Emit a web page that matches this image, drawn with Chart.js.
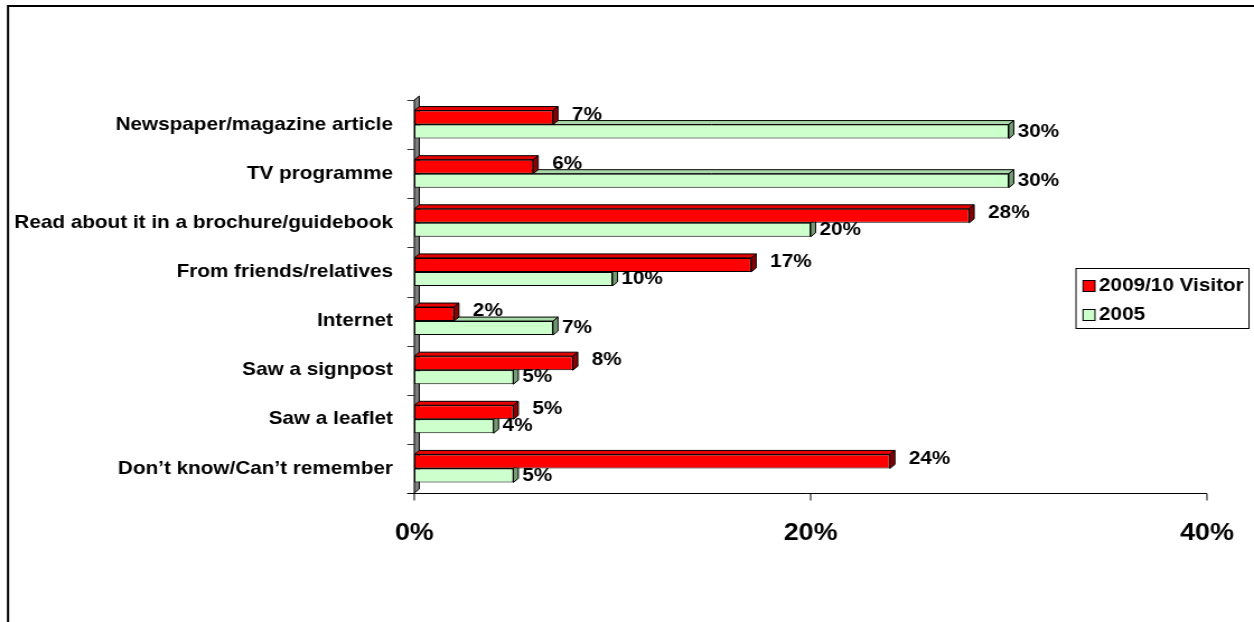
<!DOCTYPE html>
<html>
<head>
<meta charset="utf-8">
<script src="https://cdn.jsdelivr.net/npm/chart.js@4/dist/chart.umd.min.js"></script>
<style>
  html, body { margin: 0; padding: 0; background: #fff; overflow: hidden; }
  #wrap { width: 1254px; height: 622px; overflow: hidden; position: relative; }
  #c { position: absolute; left: 0; top: 0; transform-origin: 0 0; transform: scaleX(1.119643); }
</style>
</head>
<body>
<div id="wrap"><canvas id="c" width="1120" height="622"></canvas></div>
<script>
// How visitors first heard about the site (share of respondents, %)
const categories = [
  'Newspaper/magazine article',
  'TV programme',
  'Read about it in a brochure/guidebook',
  'From friends/relatives',
  'Internet',
  'Saw a signpost',
  'Saw a leaflet',
  'Don\u2019t know/Can\u2019t remember'
];
const visitors2009 = [7, 6, 28, 17, 2, 8, 5, 24];
const survey2005 = [30, 30, 20, 10, 7, 5, 4, 5];
const seriesNames = ['2009/10 Visitor', '2005'];
const xTickValues = [0, 20, 40];

// Drawing constants (canvas is drawn narrower, then widened with CSS)
const SX = 1254 / 1120;
const DX = 5 / SX;          // 3D depth, horizontal
const DY = 4;               // 3D depth, vertical
const FONT = 'Arial, "Liberation Sans", sans-serif';
const faceColours = [
  { front: '#FF0000', top: '#E60000', side: '#8B0000' },
  { front: '#CCFFCC', top: '#A9D9A9', side: '#749C74' }
];

function poly(ctx, pts, fill) {
  ctx.beginPath();
  ctx.moveTo(pts[0][0], pts[0][1]);
  for (let i = 1; i < pts.length; i++) ctx.lineTo(pts[i][0], pts[i][1]);
  ctx.closePath();
  ctx.fillStyle = fill;
  ctx.fill();
  ctx.stroke();
}

const depthPlugin = {
  id: 'depth3d',
  beforeDatasetsDraw(chart) {
    const ctx = chart.ctx;
    const ca = chart.chartArea;
    const ys = chart.scales.y;
    const xs = chart.scales.x;
    ctx.save();

    // outer frame
    ctx.strokeStyle = '#000';
    ctx.lineWidth = 2;
    ctx.beginPath();
    ctx.moveTo(8 / SX, 622);
    ctx.lineTo(8 / SX, 6);
    ctx.lineTo(1120, 6);
    ctx.stroke();

    // left wall
    ctx.lineWidth = 1;
    ctx.strokeStyle = '#000';
    poly(ctx, [[ca.left, ca.top], [ca.left + DX, ca.top - DY], [ca.left + DX, ca.bottom - DY], [ca.left, ca.bottom]], '#808080');

    // category tick marks
    const step = ys.getPixelForValue(1) - ys.getPixelForValue(0);
    const first = ys.getPixelForValue(0) - step / 2;
    ctx.strokeStyle = '#333';
    ctx.beginPath();
    for (let i = 0; i <= categories.length; i++) {
      const y = Math.round(first + i * step) + 0.5;
      ctx.moveTo(ca.left - 7 / SX, y);
      ctx.lineTo(ca.left, y);
    }
    ctx.stroke();

    // value axis line and ticks
    ctx.strokeStyle = '#000';
    ctx.beginPath();
    const yb = Math.round(ca.bottom) + 0.5;
    ctx.moveTo(ca.left - 7 / SX, yb);
    ctx.lineTo(ca.right, yb);
    xTickValues.forEach(v => {
      const x = xs.getPixelForValue(v);
      ctx.moveTo(x, yb);
      ctx.lineTo(x, yb + 7);
    });
    ctx.stroke();

    // bar depth faces: lower series first
    ctx.strokeStyle = '#000';
    ctx.lineWidth = 1;
    for (let di = chart.data.datasets.length - 1; di >= 0; di--) {
      const meta = chart.getDatasetMeta(di);
      const col = faceColours[di];
      meta.data.forEach(el => {
        const x0 = el.base, x1 = el.x;
        const t = el.y - el.height / 2, b = el.y + el.height / 2;
        poly(ctx, [[x0, t], [x0 + DX, t - DY], [x1 + DX, t - DY], [x1, t]], col.top);
        poly(ctx, [[x1, t], [x1 + DX, t - DY], [x1 + DX, b - DY], [x1, b]], col.side);
      });
    }
    ctx.restore();
  },
  afterDatasetsDraw(chart) {
    const ctx = chart.ctx;
    ctx.save();
    ctx.fillStyle = '#000';
    ctx.font = 'bold 18.5px ' + FONT;
    ctx.textAlign = 'left';
    ctx.textBaseline = 'middle';

    // value labels
    chart.data.datasets.forEach((ds, di) => {
      const meta = chart.getDatasetMeta(di);
      meta.data.forEach((el, i) => {
        const gap = di === 0 ? 14 / SX : 4 / SX;
        const dy = di === 0 ? -3 : 0;
        ctx.fillText(ds.data[i] + '%', el.x + DX + gap, el.y + dy);
      });
    });

    // legend
    ctx.strokeStyle = '#000';
    ctx.lineWidth = 1;
    ctx.strokeRect(1076 / SX, 268.5, 173 / SX, 60);
    const rows = [286, 315];
    chart.data.datasets.forEach((ds, di) => {
      ctx.fillStyle = faceColours[di].front;
      ctx.fillRect(1083 / SX, rows[di] - 6, 12 / SX, 12);
      ctx.strokeRect(1083 / SX, rows[di] - 6 + 0.5, 12 / SX, 11);
      ctx.fillStyle = '#000';
      ctx.fillText(seriesNames[di], 1099 / SX, rows[di]);
    });
    ctx.restore();
  }
};

new Chart(document.getElementById('c'), {
  type: 'bar',
  data: {
    labels: categories,
    datasets: [
      { label: seriesNames[0], data: visitors2009, backgroundColor: faceColours[0].front, borderColor: '#000', borderWidth: 1, borderSkipped: false },
      { label: seriesNames[1], data: survey2005, backgroundColor: faceColours[1].front, borderColor: '#000', borderWidth: 1, borderSkipped: false }
    ]
  },
  options: {
    indexAxis: 'y',
    responsive: false,
    animation: false,
    devicePixelRatio: 1,
    layout: { padding: { left: 0, right: 39, top: 100, bottom: 0 } },
    datasets: { bar: { categoryPercentage: 0.57, barPercentage: 1 } },
    plugins: { legend: { display: false }, tooltip: { enabled: false } },
    scales: {
      x: {
        min: 0, max: 40,
        grid: { display: false },
        border: { display: false },
        ticks: {
          stepSize: 20,
          maxRotation: 0,
          padding: 18,
          color: '#000',
          font: { family: FONT, size: 24, weight: 'bold' },
          callback: v => v + '%'
        },
        afterBuildTicks(scale) { scale.ticks = xTickValues.map(v => ({ value: v })); },
        afterFit(scale) { scale.height = 129; }
      },
      y: {
        grid: { display: false },
        border: { display: false },
        ticks: {
          autoSkip: false,
          padding: 11,
          color: '#000',
          font: { family: FONT, size: 18.5, weight: 'bold' }
        },
        afterFit(scale) { scale.width = 370; }
      }
    }
  },
  plugins: [depthPlugin]
});
</script>
</body>
</html>
